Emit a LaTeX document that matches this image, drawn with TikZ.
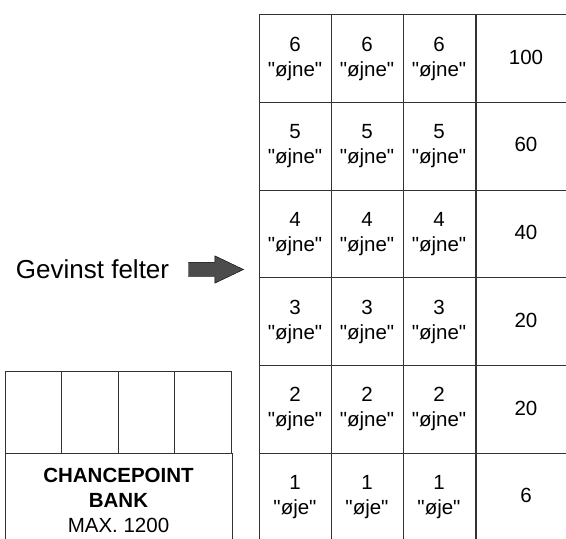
\documentclass[tikz,border=0pt]{standalone}
\usepackage{fontspec}
\setmainfont{Liberation Sans}
\usetikzlibrary{positioning,shapes.arrows}

\tikzset{
  cell/.style={draw=black!80, line width=0.9pt, minimum width=72pt, minimum height=87.7pt,
    inner sep=0pt, align=center, font=\fontsize{20.5}{25}\selectfont},
  prize/.style={cell, minimum width=100pt},
  slot/.style={draw=black!80, line width=0.9pt, minimum width=56.5pt, minimum height=82pt, inner sep=0pt},
  bank/.style={cell, minimum width=227pt, minimum height=94pt},
  bigarrow/.style={single arrow, draw=black, fill=black!70, minimum height=55pt, minimum width=27pt,
    inner xsep=0pt, inner ysep=7pt, text height=0pt, text depth=0pt,
    single arrow head extend=6.5pt, single arrow tip angle=51},
}
\newcommand{\qt}[1]{\textquotedbl#1\textquotedbl}

\begin{document}
\begin{tikzpicture}[x=1pt,y=-1pt]
  \useasboundingbox (0,0) rectangle (566,539);
  % gevinst felter
  \foreach \n/\p [count=\i from 0] in {6/100,5/60,4/40,3/20,2/20,1/6} {
    \foreach \c in {0,1,2}
      \node[cell] (cell-\n-\c) at (295+72*\c, 58.55+87.7*\i) {\n\\\qt{\ifnum\n=1 øje\else øjne\fi}};
    \node[prize, text depth=3pt] (prize-\n) at (526, 58.55+87.7*\i) {\p};
  }
  % chancepoint bank
  \foreach \k in {0,...,3}
    \node[slot] (slot-\k) at (33.25+56.5*\k, 412) {};
  \node[bank] (bank) at (118.5, 500) {\textbf{CHANCEPOINT}\\\textbf{BANK}\\MAX. 1200};
  % pil
  \node[bigarrow] (arrow) at (208.5, 269.5) {};
  \node[left=19pt of arrow, inner sep=0pt, font=\fontsize{26}{30}\selectfont] (label) {Gevinst felter};
\end{tikzpicture}
\end{document}
